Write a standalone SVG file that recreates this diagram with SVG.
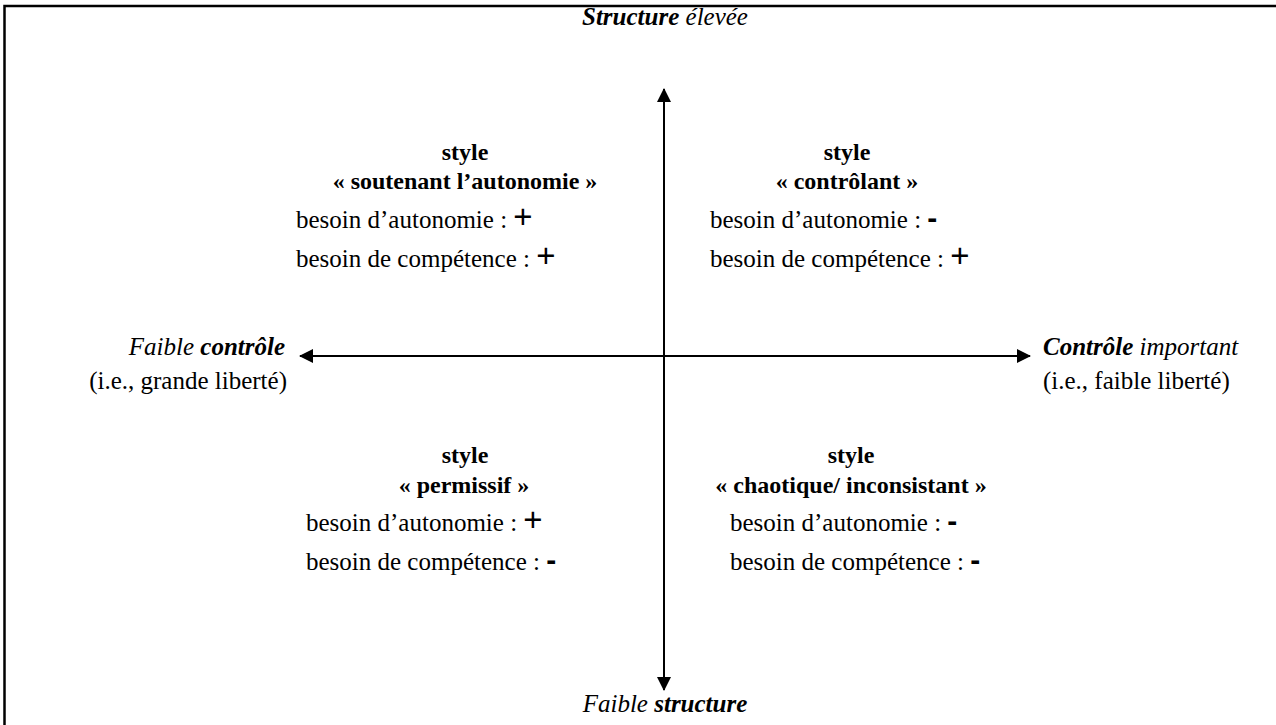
<svg xmlns="http://www.w3.org/2000/svg" width="1276" height="725" viewBox="0 0 1276 725">
<style>
text{font-family:"Liberation Serif","Times New Roman",serif;font-size:25px;fill:#000}
.b{font-weight:bold}
.t{font-size:24px}
.i{font-style:italic}
.bi{font-weight:bold;font-style:italic}
.c{text-anchor:middle}
.e{text-anchor:end}
.sign{font-family:"Liberation Sans",Arial,sans-serif}
.plus{font-size:33px}
.minus{font-size:30px;font-weight:bold}
.ax{stroke:#000;stroke-width:2;fill:none}
</style>
<defs>
<marker id="ah" viewBox="0 0 14 14" refX="13" refY="7" markerWidth="14" markerHeight="14" markerUnits="userSpaceOnUse" orient="auto">
<path d="M0,0 L14,7 L0,14 Z" fill="#000"/>
</marker>
</defs>
<rect x="0" y="0" width="1276" height="725" fill="#fff"/>
<rect id="frame" x="4.5" y="6" width="1300" height="760" fill="none" stroke="#000" stroke-width="2.5"/>
<g id="connectors">
<line class="ax" x1="664" y1="690" x2="664" y2="89" marker-end="url(#ah)"/>
<line class="ax" x1="664" y1="89" x2="664" y2="690" marker-end="url(#ah)"/>
<line class="ax" x1="1030" y1="356" x2="300" y2="356" marker-end="url(#ah)"/>
<line class="ax" x1="300" y1="356" x2="1030" y2="356" marker-end="url(#ah)"/>
</g>
<g id="top-label"><text class="c" x="665" y="25"><tspan class="bi">Structure</tspan><tspan class="i"> élevée</tspan></text></g>
<g id="bottom-label"><text class="c" x="665" y="712"><tspan class="i">Faible </tspan><tspan class="bi">structure</tspan></text></g>
<g id="left-label">
<text class="e" x="285" y="355"><tspan class="i">Faible </tspan><tspan class="bi">contrôle</tspan></text>
<text class="e" x="287" y="389">(i.e., grande liberté)</text>
</g>
<g id="right-label">
<text x="1043" y="355"><tspan class="bi">Contrôle</tspan><tspan class="i"> important</tspan></text>
<text x="1043" y="389">(i.e., faible liberté)</text>
</g>
<g id="q-soutenant">
<text class="b t c" x="465" y="160">style</text>
<text class="b t c" x="465" y="189">« soutenant l’autonomie »</text>
<text x="296" y="228">besoin d’autonomie : <tspan class="sign plus">+</tspan></text>
<text x="296" y="267">besoin de compétence : <tspan class="sign plus">+</tspan></text>
</g>
<g id="q-controlant">
<text class="b t c" x="847" y="160">style</text>
<text class="b t c" x="847" y="189">« contrôlant »</text>
<text x="710" y="228">besoin d’autonomie : <tspan class="sign minus">-</tspan></text>
<text x="710" y="267">besoin de compétence : <tspan class="sign plus">+</tspan></text>
</g>
<g id="q-permissif">
<text class="b t c" x="465" y="463">style</text>
<text class="b t c" x="464" y="493">« permissif »</text>
<text x="306" y="531">besoin d’autonomie : <tspan class="sign plus">+</tspan></text>
<text x="306" y="570">besoin de compétence : <tspan class="sign minus">-</tspan></text>
</g>
<g id="q-chaotique">
<text class="b t c" x="851" y="463">style</text>
<text class="b t c" x="851" y="493">« chaotique/ inconsistant »</text>
<text x="730" y="531">besoin d’autonomie : <tspan class="sign minus">-</tspan></text>
<text x="730" y="570">besoin de compétence : <tspan class="sign minus">-</tspan></text>
</g>
</svg>
